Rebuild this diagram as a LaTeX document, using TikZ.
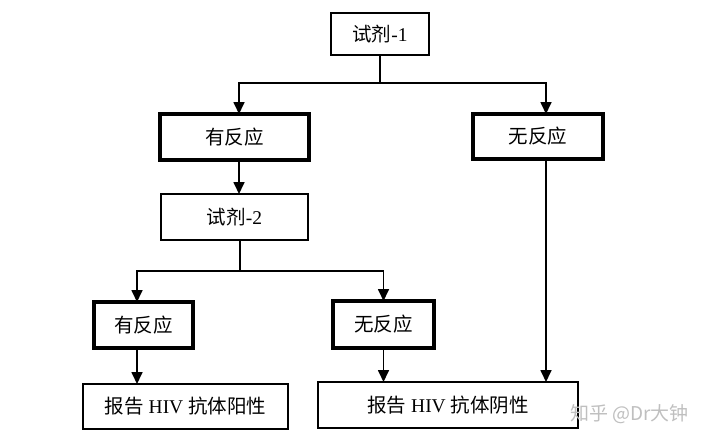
\documentclass[tikz,border=0pt]{standalone}
\usepackage{fontspec}
\setmainfont{Liberation Serif}
\newfontfamily\cjk{Noto Sans CJK SC}
\usetikzlibrary{arrows.meta}
\tikzset{
  box/.style={draw, line width=1.7pt, minimum width=#1, inner sep=0pt, outer sep=0pt, font=\fontsize{19.5}{21}\selectfont},
  thickbox/.style={box=#1, line width=3.4pt},
  arr/.style={line width=1.7pt, -{Triangle[length=12pt,width=11pt]}},
  ln/.style={line width=1.7pt},
}
\begin{document}
\begin{tikzpicture}[x=1pt,y=-1pt]
\useasboundingbox (0,0) rectangle (720,447);
\node[box=98pt, minimum height=42pt] (t1) at (380,34) {{\cjk 试剂}-1};
\node[thickbox=149pt, minimum height=46pt] (y1) at (234.5,137) {\cjk 有反应};
\node[thickbox=130pt, minimum height=45pt] (n1) at (538,136.5) {\cjk 无反应};
\node[box=147pt, minimum height=46pt] (t2) at (234.5,217) {{\cjk 试剂}-2};
\node[thickbox=99pt, minimum height=46pt] (y2) at (143.5,325) {\cjk 有反应};
\node[thickbox=101pt, minimum height=47pt] (n2) at (383.5,324.5) {\cjk 无反应};
\node[box=205pt, minimum height=45pt] (p) at (185.5,406.5) {{\cjk 报告} HIV {\cjk 抗体阳性}};
\node[box=260pt, minimum height=46pt] (ng) at (448,405) {{\cjk 报告} HIV {\cjk 抗体阴性}};
\node[text=black!25, font=\cjk\fontsize{19}{20}\selectfont, anchor=west, inner sep=0pt] (wm) at (570,414) {知乎 @Dr大钟};
\coordinate (j1) at (380,83);
\coordinate (j2) at (240,271);
\draw[ln] (t1.south) -- (j1);
\draw[arr] (j1) -| ([xshift=4.5pt]y1.north);
\draw[arr] (j1) -| ([xshift=8pt]n1.north);
\draw[arr] ([xshift=4.5pt]y1.south) -- ([xshift=4.5pt]y1.south |- t2.north);
\draw[ln] ([xshift=5.5pt]t2.south) -- (j2);
\draw[arr] (j2) -| ([xshift=-6.5pt]y2.north);
\draw[arr] (j2) -| (n2.north);
\draw[arr] ([xshift=-6.5pt]y2.south) -- ([xshift=-6.5pt]y2.south |- p.north);
\draw[arr] (n2.south) -- (n2.south |- ng.north);
\draw[arr] ([xshift=8pt]n1.south) -- ([xshift=8pt]n1.south |- ng.north);
\end{tikzpicture}
\end{document}
